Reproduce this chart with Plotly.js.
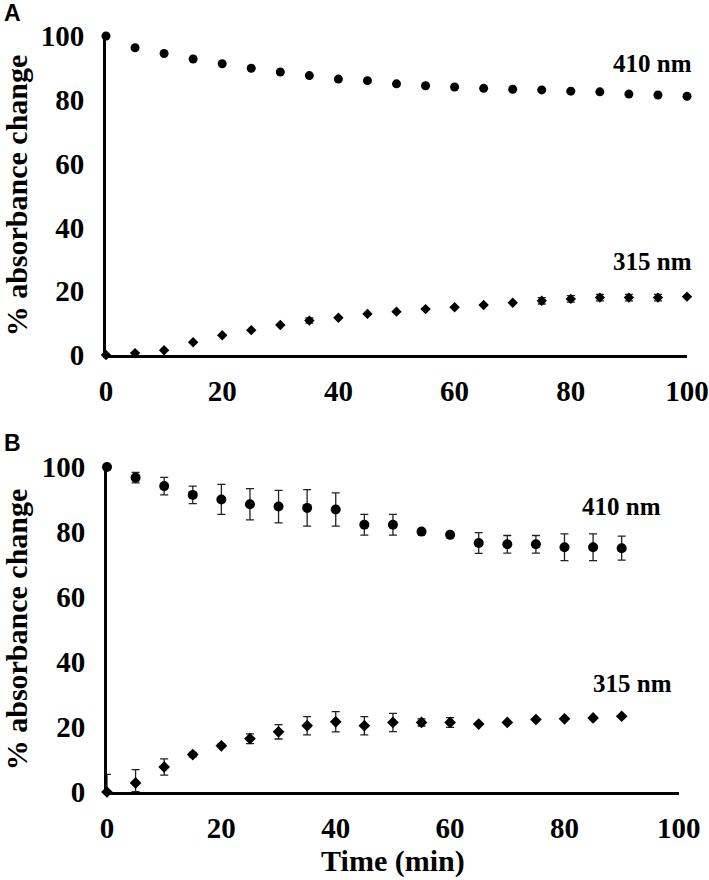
<!DOCTYPE html>
<html>
<head>
<meta charset="utf-8">
<script src="https://cdn.plot.ly/plotly-3.0.1.min.js"></script>
<style>body{margin:0;background:#fff}#chart{width:709px;height:880px}</style>
</head>
<body>
<div id="chart"></div>
<script>
// Panel A data
const timeA = [0,5,10,15,20,25,30,35,40,45,50,55,60,65,70,75,80,85,90,95,100];
const a410 = [100,96.3,94.5,92.8,91.3,89.9,88.7,87.6,86.5,86.0,85.0,84.4,84.0,83.6,83.3,83.1,82.7,82.5,81.8,81.5,81.1];
const a315 = [0,0.6,1.5,4.0,6.2,7.8,9.4,10.8,11.7,12.9,13.6,14.4,15.0,15.7,16.4,17.0,17.6,18.0,18.0,18.0,18.3];
const a315err = [0,0,0,0,0,0,0,0.8,0,0,0,0,0,0,0,1.0,1.0,1.0,1.0,1.0,0];

// Panel B data
const timeB = [0,5,10,15,20,25,30,35,40,45,50,55,60,65,70,75,80,85,90];
const b410 = [100,96.7,94.1,91.4,90.0,88.5,87.8,87.4,86.9,82.2,82.2,80.1,79.1,76.6,76.2,76.2,75.3,75.3,75.0];
const b410err = [0,1.6,2.7,2.7,4.6,4.8,5.0,5.6,5.1,3.2,3.2,0,0,3.2,2.7,2.7,4.1,4.1,3.7];
const b315 = [0,2.8,7.7,11.5,14.2,16.4,18.5,20.4,21.6,20.4,21.4,21.4,21.4,20.9,21.4,22.3,22.5,22.8,23.3];
const b315errPlus = [5.4,4.1,2.5,0.7,0.5,1.5,2.2,2.8,3.1,2.8,2.8,1.1,1.5,0,0,0,0,0,0];
const b315errMinus = [0,2.7,2.5,0.7,0.5,1.5,2.2,2.8,3.1,2.8,2.8,1.1,1.5,0,0,0,0,0,0];

const ticksX = [0,20,40,60,80,100];
const ticksY = [0,20,40,60,80,100];
const labelsA = ["410 nm","315 nm"];
const labelsB = ["410 nm","315 nm"];
const panelLetters = ["A","B"];
const yTitle = "% absorbance change";
const xTitle = "Time (min)";

const serif = "Liberation Serif, Times New Roman, serif";
const errStyle = {color:'#222', thickness:1.3, width:4};

const traces = [
  {x:timeA, y:a410, type:'scatter', mode:'markers', xaxis:'x', yaxis:'y', cliponaxis:false,
   marker:{symbol:'circle', size:9, color:'#000'}},
  {x:timeA, y:a315, type:'scatter', mode:'markers', xaxis:'x', yaxis:'y', cliponaxis:false,
   marker:{symbol:'diamond', size:8, color:'#000'},
   error_y:Object.assign({type:'data', array:a315err, visible:true}, errStyle)},
  {x:timeB, y:b410, type:'scatter', mode:'markers', xaxis:'x2', yaxis:'y2', cliponaxis:false,
   marker:{symbol:'circle', size:10, color:'#000'},
   error_y:Object.assign({type:'data', array:b410err, visible:true}, errStyle)},
  {x:timeB, y:b315, type:'scatter', mode:'markers', xaxis:'x2', yaxis:'y2', cliponaxis:false,
   marker:{symbol:'diamond', size:9, color:'#000'},
   error_y:Object.assign({type:'data', symmetric:false, array:b315errPlus, arrayminus:b315errMinus, visible:true}, errStyle)}
];

const axisCommon = {
  showgrid:false, zeroline:false, showline:true, linewidth:3, linecolor:'#000',
  ticks:'', tickfont:{family:serif, size:29, color:'#000', weight:'bold'},
  range:[0,100], tickvals:ticksX, fixedrange:true
};

const layout = {
  width:709, height:880,
  margin:{l:106, r:22, t:36, b:88},
  paper_bgcolor:'#fff', plot_bgcolor:'#fff',
  showlegend:false,
  font:{family:serif, color:'#000'},
  xaxis:Object.assign({}, axisCommon, {domain:[0,1], anchor:'y', ticklabelstandoff:8}),
  yaxis:Object.assign({}, axisCommon, {domain:[0.578,1], anchor:'x', tickvals:ticksY, ticklabelstandoff:13,
     title:{text:yTitle, font:{family:serif, size:30, weight:'bold'}, standoff:12}}),
  xaxis2:Object.assign({}, axisCommon, {domain:[0.0017,0.986], anchor:'y2', ticklabelstandoff:8,
     title:{text:xTitle, font:{family:serif, size:30, weight:'bold'}, standoff:2}}),
  yaxis2:Object.assign({}, axisCommon, {domain:[0,0.430], anchor:'x2', tickvals:ticksY, ticklabelstandoff:13,
     title:{text:yTitle, font:{family:serif, size:30, weight:'bold'}, standoff:12}}),
  annotations:[
    {text:labelsA[0], x:94, y:91.5, xref:'x', yref:'y', showarrow:false, font:{family:serif, size:25, weight:'bold'}},
    {text:labelsA[1], x:94, y:29.2, xref:'x', yref:'y', showarrow:false, font:{family:serif, size:25, weight:'bold'}},
    {text:labelsB[0], x:89.9, y:87.9, xref:'x2', yref:'y2', showarrow:false, font:{family:serif, size:25, weight:'bold'}},
    {text:labelsB[1], x:91.9, y:33.5, xref:'x2', yref:'y2', showarrow:false, font:{family:serif, size:25, weight:'bold'}},
    {text:panelLetters[0], x:-0.161, y:0, xref:'paper', yref:'paper', yanchor:'middle', xanchor:'center', showarrow:false,
     font:{family:'Liberation Sans, Arial, sans-serif', size:23, weight:'bold'}},
    {text:panelLetters[1], x:-0.161, y:0, xref:'paper', yref:'paper', yanchor:'middle', xanchor:'center', showarrow:false,
     font:{family:'Liberation Sans, Arial, sans-serif', size:23, weight:'bold'}}
  ]
};
// panel letter vertical positions in paper units (pixel rows 13 and 443)
layout.annotations[4].y = (880-88-13)/756;
layout.annotations[5].y = (880-88-443)/756;

Plotly.newPlot('chart', traces, layout, {staticPlot:true, displayModeBar:false});
</script>
</body>
</html>
